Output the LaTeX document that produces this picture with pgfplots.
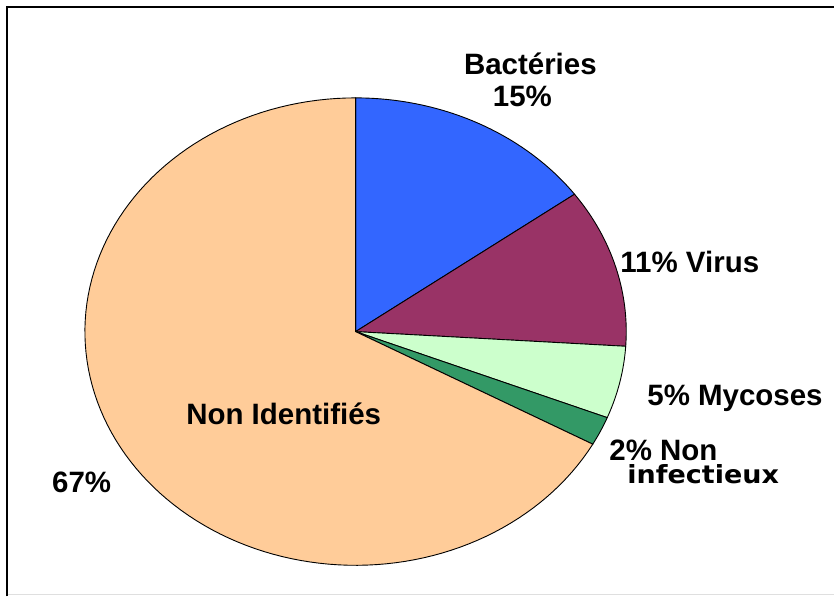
\documentclass[border=0pt]{standalone}
\usepackage{pgfplots}
\pgfplotsset{compat=1.18}
\usepackage{fontspec}
\setmainfont{Liberation Sans}
\newfontfamily\heavyfont{DejaVu Sans}

\definecolor{pieblue}{HTML}{3366FF}
\definecolor{piemaroon}{HTML}{993366}
\definecolor{pielight}{HTML}{CCFFCC}
\definecolor{piegreen}{HTML}{339966}
\definecolor{piepeach}{HTML}{FFCC99}

\newcommand\lbl{\fontsize{29.5}{33}\selectfont\bfseries}

\begin{document}
\begin{tikzpicture}
\begin{axis}[
  scale only axis,
  width=835pt, height=597pt,
  xmin=0, xmax=835, ymin=0, ymax=597,
  hide axis, clip=false,
]
% keep the whole canvas as the picture's extent
\path (axis cs:0,0) rectangle (axis cs:835,597);
% pie centre and radii (the chart is stretched horizontally)
\def\cx{356}\def\cy{265}\def\rx{271}\def\ry{234}
% slices, clockwise from 12 o'clock: share in percent / colour
\pgfmathsetmacro\angA{90}
\pgfplotsforeachungrouped \p/\c in {15/pieblue, 11/piemaroon, 5/pielight, 2/piegreen, 67/piepeach}{
  \pgfmathsetmacro\angB{\angA-3.6*\p}
  \edef\slice{\noexpand\addplot[fill=\c, draw=black, line width=0.9pt,
      domain=\angB:\angA, samples=120, variable=\noexpand\t]
      ({\cx+\rx*cos(\noexpand\t)},{\cy+\ry*sin(\noexpand\t)})
      -- (axis cs:\cx,\cy) -- cycle;}
  \slice
  \let\angA\angB
}

% labels
\node[anchor=base, font=\lbl] at (axis cs:531,522) {Bactéries};
\node[anchor=base, font=\lbl] at (axis cs:523,490) {15\%};
\node[anchor=base west, font=\lbl, inner sep=0pt] at (axis cs:621,324) {11\% Virus};
\node[anchor=base west, font=\lbl, inner sep=0pt] at (axis cs:648,191) {5\% Mycoses};
\node[anchor=base west, font=\lbl, inner sep=0pt] at (axis cs:610,136) {2\% Non};
\node[anchor=base west, inner sep=0pt, xscale=1.08,
      font=\heavyfont\fontsize{25}{29}\selectfont\bfseries] at (axis cs:628,113) {infectieux};
\node[anchor=base, font=\lbl] at (axis cs:284,172) {Non Identifiés};
\node[anchor=base west, font=\lbl, inner sep=0pt] at (axis cs:52,104) {67\%};

% frame
\draw[line width=2pt] (axis cs:7,0) -- (axis cs:7,590) -- (axis cs:835,590);
\draw[gray!25, line width=1pt] (axis cs:8,2) -- (axis cs:835,2);
\end{axis}
\end{tikzpicture}
\end{document}
